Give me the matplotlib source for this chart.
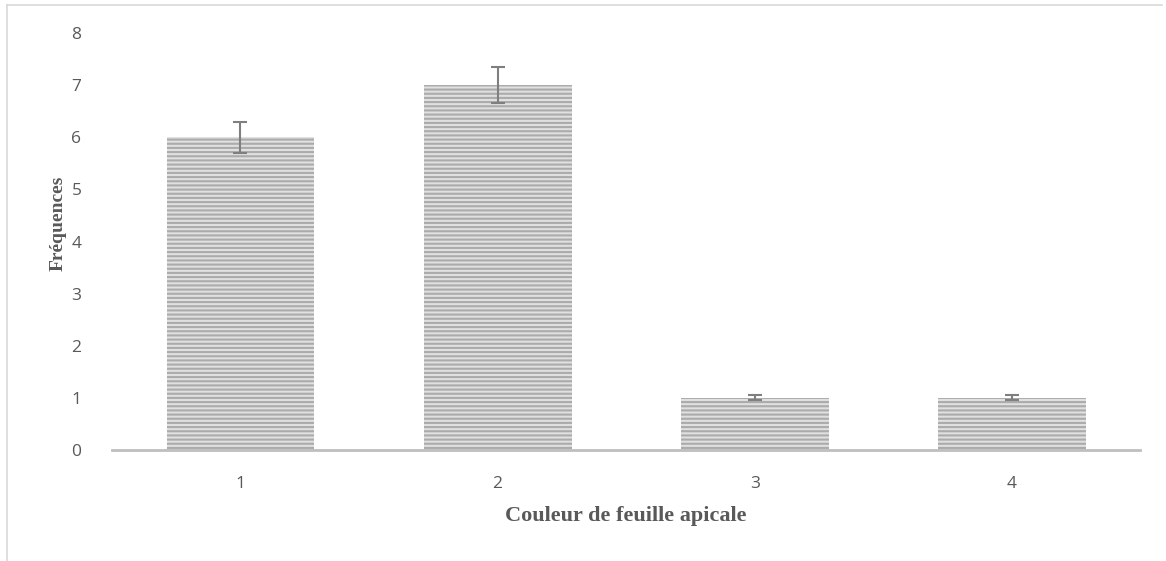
import matplotlib
matplotlib.use("Agg")
import matplotlib.pyplot as plt
from matplotlib.lines import Line2D

categories = ["1", "2", "3", "4"]
values = [6, 7, 1, 1]
errors = [0.3, 0.35, 0.05, 0.05]

plt.rcParams['hatch.linewidth'] = 1.5

fig = plt.figure(figsize=(11.66, 5.61), dpi=100)
ax = fig.add_axes([0.096, 0.198, 0.882, 0.743])

pos = list(range(1, len(categories) + 1))
ax.bar(pos, values, width=0.575, color='#e0e0e0', edgecolor='#ababab',
       linewidth=0, hatch='----', zorder=2)
ax.errorbar(pos, values, yerr=errors, fmt='none', ecolor='#7f7f7f',
            elinewidth=1.5, capsize=5, capthick=1.5, zorder=3)

ax.set_xlim(0.5, 4.5)
ax.set_ylim(0, 8)
ax.set_xticks(pos)
ax.set_xticklabels(categories)
ax.set_yticks(range(0, 9))
ax.tick_params(axis='both', length=0, labelsize=12.5, colors='#595959')
ax.tick_params(axis='x', pad=19)
ax.tick_params(axis='y', pad=22)
for lab in ax.get_xticklabels() + ax.get_yticklabels():
    lab.set_fontfamily('Open Sans')

for s in ['top', 'right', 'left']:
    ax.spines[s].set_visible(False)
ax.spines['bottom'].set_color('#bfbfbf')
ax.spines['bottom'].set_linewidth(2)

ax.set_xlabel('Couleur de feuille apicale', fontfamily='Liberation Serif',
              fontweight='bold', fontsize=16, color='#595959', labelpad=10)
ax.set_ylabel('Fréquences', fontfamily='Liberation Serif',
              fontweight='bold', fontsize=14, color='#595959')
ax.yaxis.set_label_coords(-0.044, 0.544)

# chart frame
fig.add_artist(Line2D([7 / 1166, 7 / 1166], [0, 1 - 5 / 561],
                      transform=fig.transFigure, color='#d9d9d9', lw=1.2))
fig.add_artist(Line2D([7 / 1166, 1162 / 1166], [1 - 5 / 561, 1 - 5 / 561],
                      transform=fig.transFigure, color='#d9d9d9', lw=1.2))

fig.savefig('out.png', dpi=100)
